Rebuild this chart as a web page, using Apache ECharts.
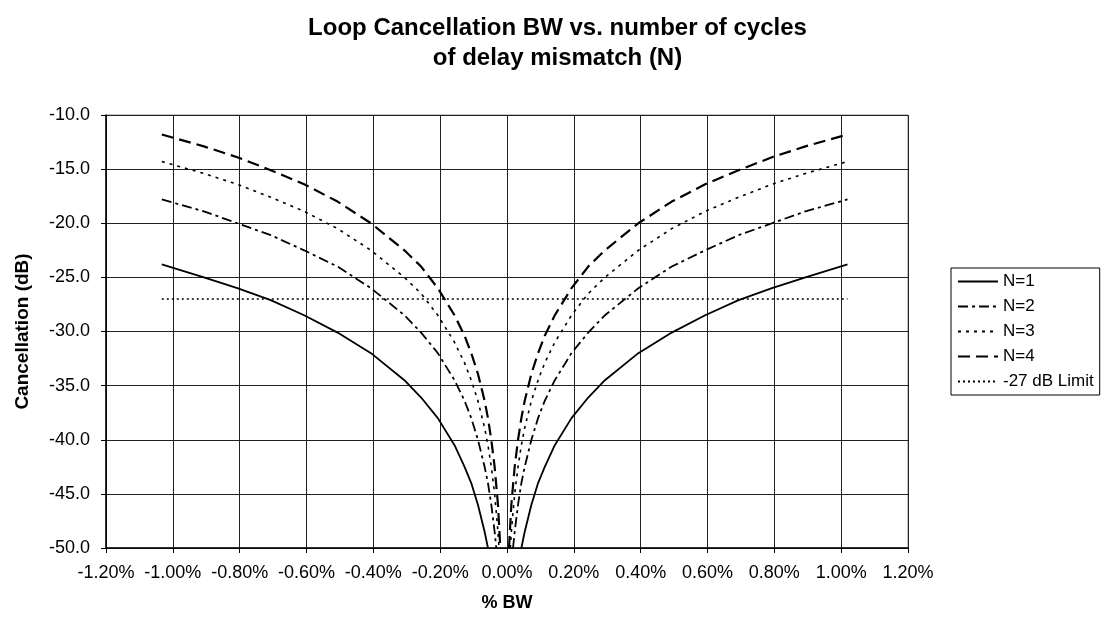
<!DOCTYPE html>
<html>
<head>
<meta charset="utf-8">
<script src="https://cdn.jsdelivr.net/npm/echarts@6/dist/echarts.min.js"></script>
<style>
  html, body { margin: 0; padding: 0; background: #fff; }
  #chart { width: 1115px; height: 618px; }
</style>
</head>
<body>
<div id="chart"></div>
<script>
// ---- Data (x in % BW, y in dB) ----
const seriesNames = ['N=1', 'N=2', 'N=3', 'N=4', '-27 dB Limit'];

const n1X = [-1.033, -0.907, -0.807, -0.707, -0.607, -0.507, -0.407, -0.307, -0.257, -0.207, -0.157, -0.127, -0.107, -0.087, -0.067, -0.057, -0.007, 0.043, 0.053, 0.073, 0.093, 0.113, 0.143, 0.193, 0.243, 0.293, 0.393, 0.493, 0.593, 0.693, 0.793, 0.893, 1.019];
const n1Y = [-23.8, -25.0, -26.0, -27.1, -28.5, -30.1, -32.0, -34.5, -36.1, -38.0, -40.5, -42.5, -44.0, -46.0, -48.5, -50.0, null, -50.0, -48.5, -46.0, -44.0, -42.5, -40.5, -38.0, -36.1, -34.5, -32.0, -30.1, -28.5, -27.1, -26.0, -25.0, -23.8];

const n2X = [-1.033, -0.907, -0.807, -0.707, -0.607, -0.507, -0.407, -0.307, -0.257, -0.207, -0.157, -0.127, -0.107, -0.087, -0.067, -0.057, -0.047, -0.037, -0.032, -0.007, 0.018, 0.023, 0.033, 0.043, 0.053, 0.073, 0.093, 0.113, 0.143, 0.193, 0.243, 0.293, 0.393, 0.493, 0.593, 0.693, 0.793, 0.893, 1.019];
const n2Y = [-17.8, -18.9, -20.0, -21.1, -22.5, -24.0, -26.0, -28.5, -30.1, -32.0, -34.5, -36.4, -38.0, -40.0, -42.5, -44.0, -46.0, -48.5, -50.0, null, -50.0, -48.5, -46.0, -44.0, -42.5, -40.0, -38.0, -36.4, -34.5, -32.0, -30.1, -28.5, -26.0, -24.0, -22.5, -21.1, -20.0, -18.9, -17.8];

const n3X = [-1.033, -0.907, -0.807, -0.707, -0.607, -0.507, -0.407, -0.307, -0.257, -0.207, -0.157, -0.127, -0.107, -0.087, -0.067, -0.057, -0.047, -0.037, -0.027, -0.024, -0.007, 0.010, 0.013, 0.023, 0.033, 0.043, 0.053, 0.073, 0.093, 0.113, 0.143, 0.193, 0.243, 0.293, 0.393, 0.493, 0.593, 0.693, 0.793, 0.893, 1.019];
const n3Y = [-14.3, -15.4, -16.4, -17.6, -18.9, -20.5, -22.5, -25.0, -26.5, -28.5, -31.0, -32.9, -34.5, -36.4, -38.9, -40.5, -42.5, -45.0, -48.5, -50.0, null, -50.0, -48.5, -45.0, -42.5, -40.5, -38.9, -36.4, -34.5, -32.9, -31.0, -28.5, -26.5, -25.0, -22.5, -20.5, -18.9, -17.6, -16.4, -15.4, -14.3];

const n4X = [-1.033, -0.907, -0.807, -0.707, -0.607, -0.507, -0.407, -0.307, -0.257, -0.207, -0.157, -0.127, -0.107, -0.087, -0.067, -0.057, -0.047, -0.037, -0.027, -0.020, -0.007, 0.006, 0.013, 0.023, 0.033, 0.043, 0.053, 0.073, 0.093, 0.113, 0.143, 0.193, 0.243, 0.293, 0.393, 0.493, 0.593, 0.693, 0.793, 0.893, 1.019];
const n4Y = [-11.8, -12.9, -13.9, -15.1, -16.4, -18.0, -20.0, -22.5, -24.0, -26.0, -28.5, -30.4, -32.0, -33.9, -36.4, -38.0, -40.0, -42.5, -46.0, -50.0, null, -50.0, -46.0, -42.5, -40.0, -38.0, -36.4, -33.9, -32.0, -30.4, -28.5, -26.0, -24.0, -22.5, -20.0, -18.0, -16.4, -15.1, -13.9, -12.9, -11.8];

const limitX = [-1.033, 1.019];
const limitY = [-27.0, -27.0];

const xTicks = { min: -1.2, max: 1.2, step: 0.2 };
const yTicks = { min: -50, max: -10, step: 5 };

// ---- Build ----
function pairs(xs, ys) { return xs.map((x, i) => [x, ys[i]]); }

const FONT = '"Liberation Sans", Arial, sans-serif';
const chart = echarts.init(document.getElementById('chart'), null, { renderer: 'canvas' });

function lineSeries(name, xs, ys, dash, width) {
  return {
    name: name,
    type: 'line',
    data: pairs(xs, ys),
    showSymbol: false,
    symbol: 'none',
    connectNulls: false,
    clip: true,
    animation: false,
    lineStyle: { color: '#000', width: width, type: dash },
    itemStyle: { color: '#000' }
  };
}

const option = {
  animation: false,
  backgroundColor: '#fff',
  title: {
    text: 'Loop Cancellation BW vs. number of cycles\nof delay mismatch (N)',
    left: 'center',
    top: 8,
    textStyle: { fontFamily: FONT, fontSize: 24, fontWeight: 'bold', color: '#000', lineHeight: 30 }
  },
  legend: {
    orient: 'vertical',
    left: 951,
    top: 268,
    padding: [5, 6, 5, 6],
    itemWidth: 40,
    itemHeight: 14,
    itemGap: 8,
    borderColor: '#000',
    borderWidth: 1,
    itemStyle: { opacity: 0 },
    textStyle: { fontFamily: FONT, fontSize: 17, color: '#000' },
    data: seriesNames
  },
  grid: {
    left: 106, right: 207, top: 115, bottom: 70,
    show: true, borderColor: '#888', borderWidth: 1
  },
  xAxis: {
    type: 'value',
    min: xTicks.min, max: xTicks.max, interval: xTicks.step,
    name: '% BW',
    nameLocation: 'middle',
    nameGap: 46,
    nameTextStyle: { fontFamily: FONT, fontSize: 18, fontWeight: 'bold', color: '#000' },
    axisLine: { show: true, onZero: false, lineStyle: { color: '#000', width: 1.5 } },
    axisTick: { show: true, inside: false, length: 5, lineStyle: { color: '#000' } },
    axisLabel: {
      margin: 16,
      fontFamily: FONT, fontSize: 18, color: '#000',
      formatter: v => (Math.abs(v) < 1e-9 ? 0 : v).toFixed(2) + '%'
    },
    splitLine: { show: true, lineStyle: { color: '#222', width: 1 } }
  },
  yAxis: {
    type: 'value',
    min: yTicks.min, max: yTicks.max, interval: yTicks.step,
    name: 'Cancellation (dB)',
    nameLocation: 'middle',
    nameGap: 74,
    nameTextStyle: { fontFamily: FONT, fontSize: 19, fontWeight: 'bold', color: '#000' },
    axisLine: { show: true, onZero: false, lineStyle: { color: '#000', width: 1.5 } },
    axisTick: { show: true, inside: false, length: 5, lineStyle: { color: '#000' } },
    axisLabel: {
      margin: 16,
      fontFamily: FONT, fontSize: 18, color: '#000',
      formatter: v => v.toFixed(1)
    },
    splitLine: { show: true, lineStyle: { color: '#222', width: 1 } }
  },
  series: [
    lineSeries(seriesNames[0], n1X, n1Y, 'solid', 1.8),
    lineSeries(seriesNames[1], n2X, n2Y, [10, 4, 3, 4], 1.8),
    lineSeries(seriesNames[2], n3X, n3Y, [3, 5], 1.6),
    lineSeries(seriesNames[3], n4X, n4Y, [12, 6], 2.2),
    lineSeries(seriesNames[4], limitX, limitY, [2, 3], 1.5)
  ]
};
chart.setOption(option);
</script>
</body>
</html>
